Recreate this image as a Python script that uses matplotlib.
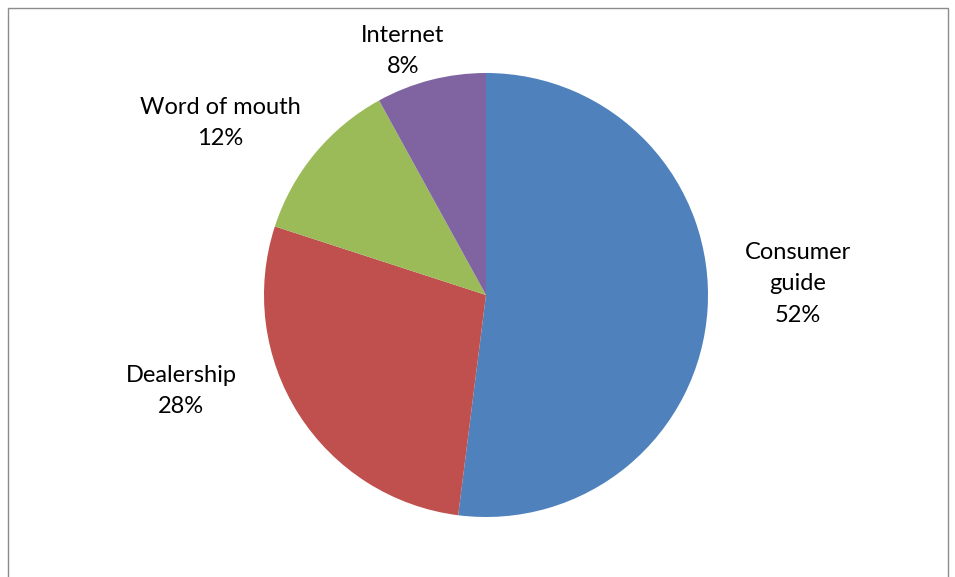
import matplotlib
matplotlib.use('Agg')
import matplotlib.pyplot as plt
from matplotlib.patches import Rectangle

# Data
categories = ['Consumer\nguide', 'Dealership', 'Word of mouth', 'Internet']
shares = [52, 28, 12, 8]
colors = ['#4F81BD', '#C0504D', '#9BBB59', '#8064A2']

# label centres in pixels (layout only)
label_xy = [(798, 284), (181, 391), (220, 123), (403, 51)]

W, H = 955, 577
fig = plt.figure(figsize=(W / 100, H / 100), dpi=100)
ax = fig.add_axes([0, 0, 1, 1])

cx, cy, r = 486, H - 295, 222
wedges, _ = ax.pie(shares, colors=colors, startangle=90, counterclock=False,
                   center=(cx, cy), radius=r,
                   wedgeprops=dict(linewidth=0))
ax.set_xlim(0, W)
ax.set_ylim(0, H)
ax.set_aspect('equal')
ax.axis('off')

for name, val, (x, y) in zip(categories, shares, label_xy):
    ax.text(x, H - y, f'{name}\n{val}%', ha='center', va='center',
            fontsize=17, family='Lato', linespacing=1.62, color='black')

# chart area border
fig.patches.append(Rectangle((8 / W, -0.1), 940 / W, (H - 8) / H + 0.1,
                             transform=fig.transFigure, fill=False,
                             edgecolor='#8c8c8c', linewidth=1))

fig.savefig('out.png', dpi=100)
